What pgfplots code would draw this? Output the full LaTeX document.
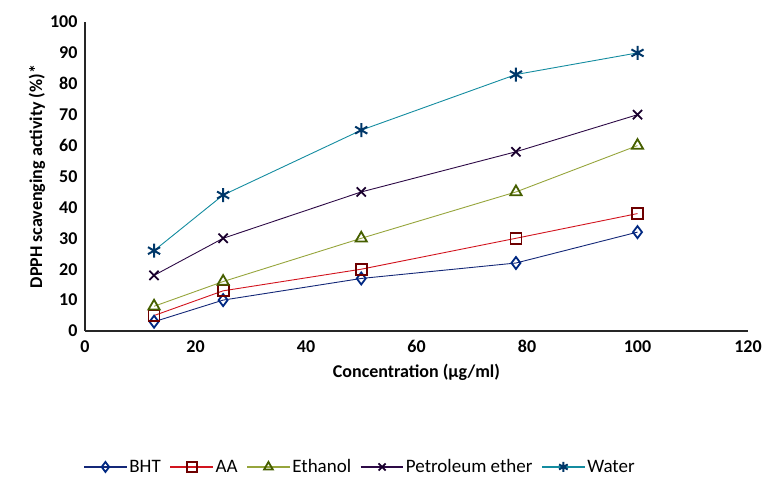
\documentclass[border=0pt]{standalone}
\usepackage{fontspec}
\setmainfont{Carlito}
\usepackage{pgfplots}
\pgfplotsset{compat=1.18}
\definecolor{bhtline}{RGB}{20,40,120}
\definecolor{bhtmark}{RGB}{0,40,130}
\definecolor{aaline}{RGB}{210,20,30}
\definecolor{aamark}{RGB}{110,0,0}
\definecolor{etline}{RGB}{150,165,60}
\definecolor{etmark}{RGB}{70,95,0}
\definecolor{peline}{RGB}{45,10,70}
\definecolor{pemark}{RGB}{25,0,45}
\definecolor{waline}{RGB}{20,140,160}
\definecolor{wamark}{RGB}{0,55,105}
\begin{document}
\begin{tikzpicture}
\path[use as bounding box] (-85pt,-147pt) rectangle (684pt,331pt);
\begin{axis}[
  at={(0pt,0pt)}, anchor=south west,
  scale only axis, width=663pt, height=309pt,
  xmin=0, xmax=120, ymin=0, ymax=100,
  axis x line=bottom, axis y line=left,
  axis line style={-, line width=1.1pt, black!85},
  xtick={0,20,...,120}, ytick={0,10,...,100},
  major tick length=0pt,
  /pgf/number format/assume math mode=true,
  tick label style={font=\fontsize{18}{20}\selectfont\bfseries},
  xticklabel style={yshift=-6pt},
  yticklabel style={xshift=-4pt},
  xlabel={\textbf{Concentration (µg/ml)}},
  ylabel={\textbf{DPPH scavenging activity (\%)*}},
  label style={font=\fontsize{18}{21}\selectfont},
  xlabel style={yshift=-4pt},
  ylabel style={yshift=-2pt},
  legend columns=5,
  legend style={draw=none, fill=none, at={(0.415,-0.44)}, anchor=center,
    font=\fontsize{19}{21}\selectfont, /tikz/every even column/.append style={column sep=7pt}},
  legend cell align=left,
  legend image code/.code={\draw[mark repeat=2,mark phase=2,#1] plot coordinates {(0cm,0cm) (0.75cm,0cm) (1.5cm,0cm)};},
  legend image post style={mark size=5pt, line width=1.1pt},
]
\addplot[bhtline, line width=0.9pt, mark=diamond, mark size=6pt, mark options={draw=bhtmark, fill=white, line width=1.8pt, solid}]
  coordinates {(12.5,3) (25,10) (50,17) (78,22) (100,32)};
\addlegendentry{BHT}
\addplot[aaline, line width=0.9pt, mark=square, mark size=5.5pt, mark options={draw=aamark, fill=white, line width=1.8pt, solid}]
  coordinates {(12.5,5) (25,13) (50,20) (78,30) (100,38)};
\addlegendentry{AA}
\addplot[etline, line width=0.9pt, mark=triangle, mark size=6.5pt, mark options={draw=etmark, fill=white, line width=1.8pt, solid}]
  coordinates {(12.5,8) (25,16) (50,30) (78,45) (100,60)};
\addlegendentry{Ethanol}
\addplot[peline, line width=0.9pt, mark=x, mark size=6.5pt, mark options={draw=pemark, line width=1.8pt, solid}]
  coordinates {(12.5,18) (25,30) (50,45) (78,58) (100,70)};
\addlegendentry{Petroleum ether}
\addplot[waline, line width=0.9pt, mark=asterisk, mark size=7pt, mark options={draw=wamark, line width=2pt, solid}]
  coordinates {(12.5,26) (25,44) (50,65) (78,83) (100,90)};
\addlegendentry{Water}
\end{axis}
\end{tikzpicture}
\end{document}
